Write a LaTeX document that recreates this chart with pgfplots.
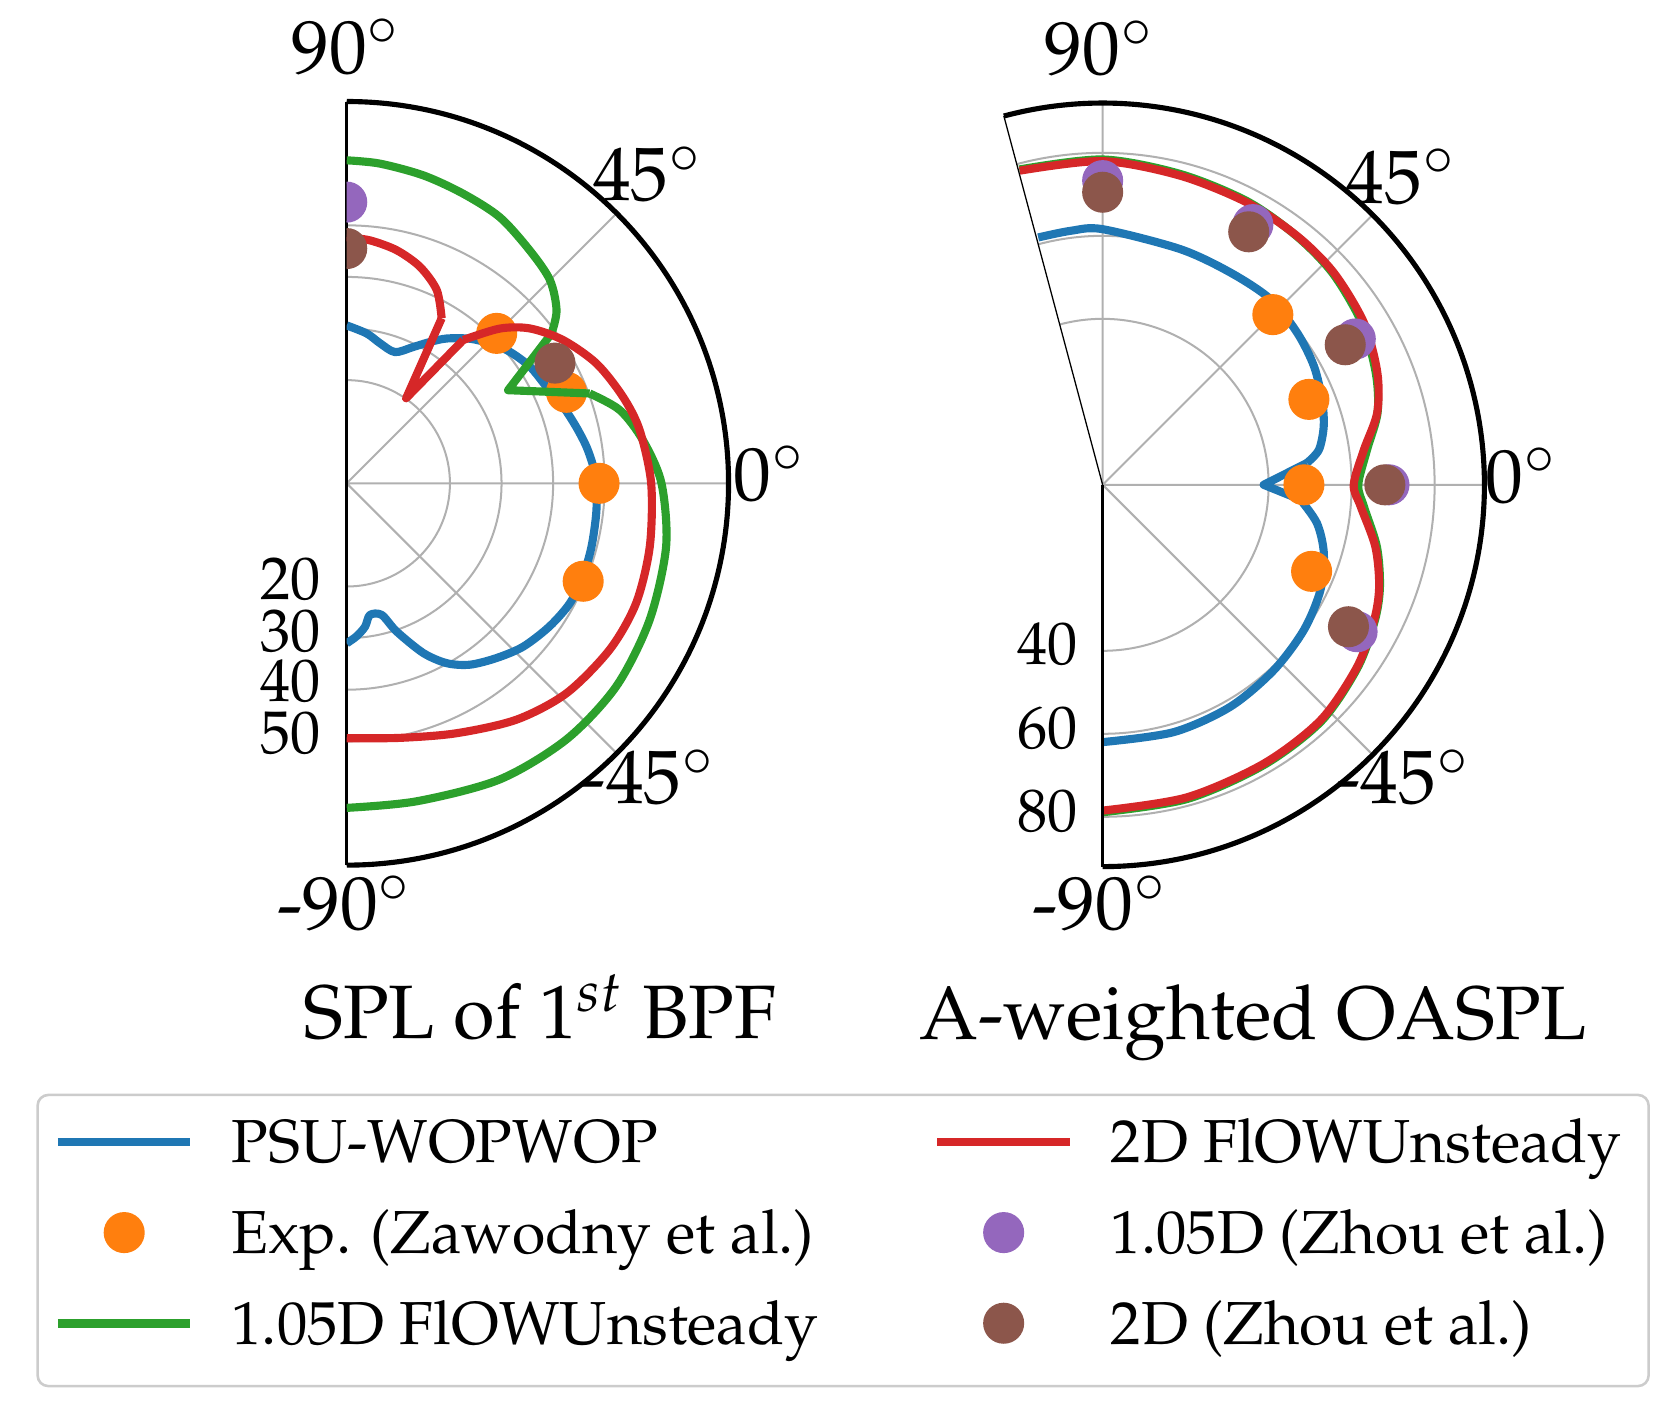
\documentclass[border=0pt]{standalone}
\usepackage[T1]{fontenc}
\usepackage{mathpazo}
\usepackage{pgfplots}
\pgfplotsset{compat=1.18}
\usepgfplotslibrary{polar}
\definecolor{tabblue}{HTML}{1F77B4}
\definecolor{tabor}{HTML}{FF7F0E}
\definecolor{tabgreen}{HTML}{2CA02C}
\definecolor{tabred}{HTML}{D62728}
\definecolor{tabpurple}{HTML}{9467BD}
\definecolor{tabbrown}{HTML}{8C564B}
\definecolor{gridgray}{HTML}{B0B0B0}
\definecolor{legendgray}{HTML}{CCCCCC}
\pgfplotsset{
  mylinelegend/.style={legend image code/.code={\draw[##1] (0pt,0pt) -- (31pt,0pt);}},
  mymarklegend/.style={legend image code/.code={\path[draw=none,fill=none] (0pt,0pt) -- (31pt,0pt); \draw[##1, only marks] plot coordinates {(15.5pt,0pt)};}},
  mypolar/.style={
    scale only axis,
    anchor=origin,
    ymin=0,
    xtick={-90,-45,0,45,90},
    xticklabels={}, yticklabels={},
    grid=major,
    major grid style={draw=gridgray, line width=0.47pt},
    major tick length=0pt,
    axis line style={line width=0.65pt},
    x axis line style={line width=1.2pt},
  },
  ln/.style={line width=1.9pt, line join=round},
  dots/.style={only marks, mark=*, mark size=4.6pt, mark options={draw=none, fill=#1}, color=#1},
}
\newcommand{\tickfont}{\fontsize{17.7pt}{21pt}\selectfont}
\newcommand{\rfont}{\fontsize{14.1pt}{17pt}\selectfont}
\begin{document}
\begin{tikzpicture}
\useasboundingbox (0pt,0pt) rectangle (392pt,331.5pt);

% ---------------- left: SPL of 1st BPF ----------------
\begin{polaraxis}[mypolar,
  at={(81.1pt,218.45pt)},
  width=178.6pt, height=178.6pt,
  xmin=-90, xmax=90, ymax=74,
  ytick={20,30,40,50},
  clip marker paths=true,
]
\addplot[tabblue, ln, smooth] coordinates {
(90,30.6)(82.4,29.3)(76.6,27.9)(69.8,27.1)(64,29.4)(59.5,31.8)(55.4,34.1)(49.6,36.8)
(44.3,38.8)(38.9,40.6)(32.5,42.1)(25.8,43.0)(19.5,44.5)(13.8,45.8)(8.7,47.0)(3.9,47.9)
(0,48.4)(-6.8,48.7)(-14.5,49.0)(-21.5,49.2)(-28.2,49.1)(-35.2,48.1)(-42.8,46.6)(-49.4,44.6)
(-55.8,42.5)(-60.9,39.9)(-65.7,36.1)(-71.4,30.3)(-75.1,26.4)(-80,25.9)(-82.7,28.0)(-86.3,29.7)(-90,31.0)
};
\addplot[dots=tabor] coordinates {(45,41.1)(22.5,46.1)(0,48.9)(-22.5,49.6)};
\addplot[tabgreen, ln, smooth] coordinates {
(90,62.6)(84.1,62.3)(76,61.5)(68.1,60.5)(60.1,59.5)(51.8,57.4)(45,55.7)(39.5,52.7)(36.2,49.2)
};
\addplot[tabgreen, ln] coordinates {(36.2,49.2)(30,36.1)(20.3,50.2)};
\addplot[tabgreen, ln, smooth] coordinates {
(20.3,50.2)(15,54.8)(8.3,58.0)(0,61.0)(-11.2,63.1)(-24.3,64.4)
(-37,65.4)(-49.4,65.4)(-62.7,64.6)(-77.6,63.1)(-90,62.9)
};
\addplot[tabred, ln, smooth] coordinates {
(90,47.7)(84.5,47.3)(77.9,46.2)(71.3,44.3)(65,41.3)(60.1,36.9)
};
\addplot[tabred, ln] coordinates {(60.1,36.9)(55.1,20.1)(50.9,35.8)};
\addplot[tabred, ln, smooth] coordinates {
(50.9,35.8)(45.3,42.2)(40.2,46.5)(33.5,50.3)(25.6,53.7)(17.4,56.1)(10.3,57.7)(0,59.0)(-11.8,60.0)
(-22.5,60.7)(-32.3,60.3)(-43.7,58.9)(-54.3,56.4)(-66.3,52.9)(-78.2,50.4)(-90,49.4)
};
\addplot[dots=tabpurple] coordinates {(90,54.5)};
\addplot[dots=tabbrown] coordinates {(90,45.5)(30,46.6)};
\end{polaraxis}

% ---------------- right: A-weighted OASPL ----------------
\begin{polaraxis}[mypolar,
  at={(257.9pt,218.1pt)},
  width=178.6pt, height=178.6pt,
  xmin=-90, xmax=105, ymax=92,
  ytick={40,60,80},
  y axis line style={draw=none},
]
\addplot[tabblue, ln, smooth] coordinates {
(104.6,61.6)(97,61.7)(90,61.6)(71.8,59.8)(59,59.7)(47.9,60.3)(38,59.5)(29.3,58.4)(21.2,56.7)
(14.8,55.1)(9.2,52.8)(6.1,49.5)
};
\addplot[tabblue, ln] coordinates {(6.1,49.5)(0,38.8)(-4.3,47.8)};
\addplot[tabblue, ln, smooth] coordinates {
(-4.3,47.8)(-10.2,52.5)(-17.2,55.8)(-25.8,58.3)
(-35.8,59.8)(-47.3,60.8)(-60.1,61.7)(-74,62.0)(-90,62.0)
};
\addplot[dots=tabor] coordinates {(45,58.0)(22.5,53.8)(0,48.5)(-22.5,54.5)};
\addplot[tabgreen, ln, smooth] coordinates {
(104.8,78.6)(90,78.4)(75.9,77.2)(62.9,76.7)(52,76.0)(42.5,75.3)(31.8,73.6)(22.2,71.1)
(14.7,68.5)(7.6,64.3)(0,61.6)(-4.8,63.2)(-12.8,67.8)(-20.2,71.2)(-26.5,73.3)(-35.6,75.6)
(-47.2,77.6)(-60,77.9)(-74.9,78.4)(-90,78.9)
};
\addplot[tabred, ln, smooth] coordinates {
(104.8,78.3)(90,78.0)(75.9,76.8)(62.9,76.4)(52,76.1)(42.5,75.6)(31.8,74.1)(22.2,71.5)
(14.7,68.4)(7.6,63.5)(0,60.5)(-4.8,62.4)(-12.8,67.4)(-20.2,71.0)(-26.5,73.1)(-35.6,75.4)
(-47.2,77.3)(-60,77.6)(-74.9,78.0)(-90,78.5)
};
\addplot[dots=tabpurple] coordinates {(90,73.3)(60,72.4)(30,70.3)(0,69.0)(-30,70.8)};
\addplot[dots=tabbrown] coordinates {(90,70.5)(60,70.4)(30,67.5)(0,68.0)(-30,68.4)};
\end{polaraxis}
% radial edges of the right sector
\draw[line width=0.65pt] (257.9pt,218.1pt) -- (257.9pt,128.8pt);
\draw[line width=0.3pt] (257.9pt,218.1pt) -- (234.79pt,304.36pt);

% ---------------- angle labels ----------------
\begin{scope}[every node/.style={font=\tickfont, inner sep=0pt, anchor=base}]
\node at (80.9pt,314.4pt) {90$^\circ$};
\node at (151.5pt,284.5pt) {45$^\circ$};
\node at (180pt,214.5pt) {0$^\circ$};
\node at (151.6pt,143.5pt) {-45$^\circ$};
\node at (80.6pt,114pt) {-90$^\circ$};
\node at (257.1pt,314pt) {90$^\circ$};
\node at (327.75pt,284pt) {45$^\circ$};
\node at (355.9pt,214pt) {0$^\circ$};
\node at (328.1pt,143.5pt) {-45$^\circ$};
\node at (257.25pt,114pt) {-90$^\circ$};
\node at (126.3pt,88.6pt) {SPL of 1$^{st}$ BPF};
\node at (293.1pt,88.4pt) {A-weighted OASPL};
\end{scope}
\begin{scope}[every node/.style={font=\rfont, inner sep=0pt, anchor=base east}]
\node at (75.25pt,191.2pt) {20};
\node at (75.25pt,179.1pt) {30};
\node at (75.25pt,167.4pt) {40};
\node at (75.25pt,155.3pt) {50};
\node at (252.2pt,176.0pt) {40};
\node at (252.2pt,156.5pt) {60};
\node at (252.2pt,137.0pt) {80};
\end{scope}

% ---------------- legend ----------------
\draw[legendgray, line width=0.6pt, rounded corners=2.5pt, fill=white] (8.8pt,7.3pt) rectangle (385.6pt,75.4pt);
\begin{axis}[
  at={(0pt,0pt)}, anchor=south west,
  scale only axis, width=392pt, height=331.5pt,
  hide axis, xmin=0, xmax=1, ymin=0, ymax=1,
  legend columns=2,
  legend cell align=left,
  legend style={
    draw=none, fill=none,
    at={(0.03202,0.22564)}, anchor=north west,
    inner sep=0pt, outer sep=0pt,
    row sep=0.4pt, column sep=0pt,
    /tikz/every odd column/.append style={column sep=8.6pt},
    font=\fontsize{14.2pt}{17pt}\selectfont,
    nodes={inner xsep=0pt, inner ysep=2pt, text height=13.3pt, text depth=3.5pt},
  },
]
\addlegendimage{mylinelegend, tabblue, line width=2pt}
\addlegendentry{\makebox[164.1pt][l]{PSU-WOPWOP}}
\addlegendimage{mylinelegend, tabred, line width=2pt}
\addlegendentry{2D FlOWUnsteady}
\addlegendimage{only marks, mark=*, mark size=4.6pt, tabor, mark options={draw=none, fill=tabor}, mymarklegend}
\addlegendentry{\makebox[164.1pt][l]{Exp. (Zawodny et al.)}}
\addlegendimage{only marks, mark=*, mark size=4.6pt, tabpurple, mark options={draw=none, fill=tabpurple}, mymarklegend}
\addlegendentry{1.05D (Zhou et al.)}
\addlegendimage{mylinelegend, tabgreen, line width=2pt}
\addlegendentry{\makebox[164.1pt][l]{1.05D FlOWUnsteady}}
\addlegendimage{only marks, mark=*, mark size=4.6pt, tabbrown, mark options={draw=none, fill=tabbrown}, mymarklegend}
\addlegendentry{2D (Zhou et al.)}
\end{axis}
\end{tikzpicture}
\end{document}
